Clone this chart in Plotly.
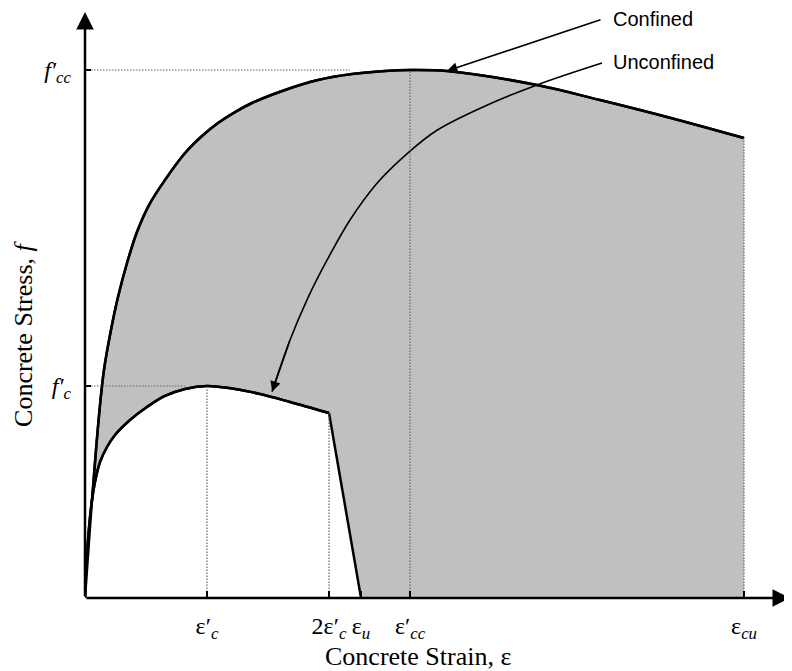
import plotly.graph_objects as go

# ---- data (strain, stress) ----
conf_strain = [0, 0.0000492, 0.000115, 0.00018, 0.000246, 0.000311, 0.00041, 0.000541,
               0.000689, 0.000852, 0.001049, 0.001311, 0.00164, 0.001918, 0.00218, 0.002459,
               0.002738, 0.003279, 0.00382, 0.004377, 0.004918, 0.005328, 0.005934,
               0.00741, 0.008443, 0.009541, 0.010803]
conf_stress = [0, 6.08, 13.87, 20.94, 27.31, 32.26, 37.22, 42.59,
               47.41, 51.79, 55.61, 59.15, 62.97, 65.38, 67.22, 68.77,
               70.05, 71.89, 73.30, 74.15, 74.58, 74.72, 74.58,
               72.59, 70.47, 68.07, 65.09]

unconf_strain = [0, 0.0000164, 0.0000492, 0.0000984, 0.000164, 0.000246, 0.000361, 0.000492,
                 0.000738, 0.001016, 0.001311, 0.00164, 0.002, 0.002459, 0.002869, 0.003361, 0.004]
unconf_stress = [0, 3.68, 8.21, 12.74, 16.42, 19.25, 21.37, 23.07,
                 25.19, 27.03, 28.59, 29.58, 30.0, 29.58, 28.87, 27.74, 26.18]
unconf_tail_strain = [0.004, 0.004525]
unconf_tail_stress = [26.18, 0]

# curved leader for "Unconfined"
lead_strain = [0.008475, 0.00741, 0.006525, 0.00577, 0.005295, 0.004787, 0.004344,
               0.003967, 0.003639, 0.003361, 0.003066]
lead_stress = [75.7, 72.6, 69.5, 66.2, 63.0, 58.7, 53.5, 47.8, 42.2, 36.5, 29.2]

# key points
eps_c, eps_2c, eps_u, eps_cc, eps_cu = 0.002, 0.004, 0.004525, 0.005328, 0.010803
fc, fcc = 30.0, 74.72
x_tickvals = [eps_c, eps_2c, eps_u, eps_cc, eps_cu]
x_ticktext = ["ε′<sub><i>c</i></sub>", "2ε′<sub><i>c</i></sub>", "ε<sub><i>u</i></sub>",
              "ε′<sub><i>cc</i></sub>", "ε<sub><i>cu</i></sub>"]
y_tickvals = [fc, fcc]
y_ticktext = ["<i>f′<sub>c</sub></i>", "<i>f′<sub>cc</sub></i>"]

XMAX, YMAX = 0.011557, 82.93
GRAY = "#c0c0c0"
SERIF = "Liberation Serif, Times New Roman, serif"
SANS = "Liberation Sans, Arial, sans-serif"
CURVE = dict(color="black", width=2.5, shape="spline", smoothing=1.0)

fig = go.Figure()
# gray area under confined curve
fig.add_trace(go.Scatter(x=conf_strain, y=conf_stress, mode="lines", line=CURVE,
                         fill="tozeroy", fillcolor=GRAY, hoverinfo="skip"))
# white area under unconfined curve
fig.add_trace(go.Scatter(x=unconf_strain, y=unconf_stress, mode="lines", line=CURVE,
                         fill="tozeroy", fillcolor="white", hoverinfo="skip"))
fig.add_trace(go.Scatter(x=unconf_tail_strain, y=unconf_tail_stress, mode="lines", line=dict(color="black", width=2.5),
                         fill="tozeroy", fillcolor="white", hoverinfo="skip"))
# redraw curve lines on top of fills
fig.add_trace(go.Scatter(x=conf_strain, y=conf_stress, mode="lines", line=CURVE, hoverinfo="skip"))
fig.add_trace(go.Scatter(x=unconf_strain, y=unconf_stress, mode="lines", line=CURVE, hoverinfo="skip"))
# unconfined leader line
fig.add_trace(go.Scatter(x=lead_strain, y=lead_stress, mode="lines",
                         line=dict(color="black", width=1.6, shape="spline", smoothing=1.0), hoverinfo="skip"))

shapes = []
dot = dict(color="#666666", width=1.2, dash="1.5px,1.5px")
shapes.append(dict(type="line", xref="x", yref="y", x0=0, x1=0.004344, y0=fcc, y1=fcc, line=dot, layer="above"))
shapes.append(dict(type="line", xref="x", yref="y", x0=0, x1=0.00164, y0=fc, y1=fc, line=dot, layer="above"))
shapes.append(dict(type="line", xref="x", yref="y", x0=eps_c, x1=eps_c, y0=0, y1=fc, line=dot, layer="above"))
shapes.append(dict(type="line", xref="x", yref="y", x0=eps_2c, x1=eps_2c, y0=0, y1=26.18, line=dot, layer="above"))
shapes.append(dict(type="line", xref="x", yref="y", x0=eps_cc, x1=eps_cc, y0=0, y1=fcc, line=dot, layer="above"))
shapes.append(dict(type="line", xref="x", yref="y", x0=eps_cu, x1=eps_cu, y0=0, y1=65.09, line=dot, layer="above"))
# tick marks
for xv in x_tickvals:
    shapes.append(dict(type="line", xref="x", yref="y", x0=xv, x1=xv, ysizemode="pixel", yanchor=0, y0=-7, y1=7,
                       line=dict(color="black", width=2), layer="above"))
for yv in y_tickvals:
    shapes.append(dict(type="line", xref="x", yref="y", y0=yv, y1=yv, xsizemode="pixel", xanchor=0, x0=-6, x1=6,
                       line=dict(color="black", width=2), layer="above"))

annotations = [
    # axes with arrowheads
    dict(x=XMAX, y=0, ax=0, ay=0, xref="x", yref="y", axref="x", ayref="y", text="", showarrow=True,
         arrowhead=2, arrowsize=1.4, arrowwidth=2.5, arrowcolor="black", standoff=0),
    dict(x=0, y=YMAX, ax=0, ay=0, xref="x", yref="y", axref="x", ayref="y", text="", showarrow=True,
         arrowhead=2, arrowsize=1.4, arrowwidth=2.5, arrowcolor="black", standoff=0),
    # confined leader
    dict(x=0.005934, y=74.6, ax=0.008475, ay=81.9, xref="x", yref="y", axref="x", ayref="y", text="", showarrow=True,
         arrowhead=2, arrowsize=1.3, arrowwidth=1.6, arrowcolor="black", standoff=0),
    # unconfined leader head
    dict(x=lead_strain[-1], y=lead_stress[-1], ax=lead_strain[-2], ay=lead_stress[-2], xref="x", yref="y",
         axref="x", ayref="y", text="", showarrow=True, arrowhead=2, arrowsize=1.3, arrowwidth=1.6,
         arrowcolor="black", standoff=0),
    dict(x=0.00862, y=81.9, xref="x", yref="y", text="Confined", showarrow=False, xanchor="left", yanchor="middle",
         font=dict(family=SANS, size=20, color="black")),
    dict(x=0.00862, y=75.8, xref="x", yref="y", text="Unconfined", showarrow=False, xanchor="left", yanchor="middle",
         font=dict(family=SANS, size=20, color="black")),
    # axis titles
    dict(x=0.473, y=-0.099, xref="paper", yref="paper", text="Concrete Strain, ε", showarrow=False,
         xanchor="center", yanchor="middle", font=dict(family=SERIF, size=26, color="black")),
    dict(x=-0.087, y=0.45, xref="paper", yref="paper", text="Concrete Stress, <i>f</i>", showarrow=False,
         textangle=-90, xanchor="center", yanchor="middle", font=dict(family=SERIF, size=26, color="black")),
]

# page body has an 8px default margin, so the figure is 8px smaller and offset
fig.update_layout(
    width=784, height=663,
    margin=dict(l=77, r=2, t=4, b=73),
    paper_bgcolor="white", plot_bgcolor="white",
    showlegend=False,
    shapes=shapes, annotations=annotations,
    xaxis=dict(range=[0, XMAX], showgrid=False, zeroline=False, showline=False, ticks="",
               tickvals=x_tickvals, ticktext=x_ticktext, ticklabelstandoff=11, automargin=False,
               tickfont=dict(family=SERIF, size=24, color="black"), fixedrange=True),
    yaxis=dict(range=[0, YMAX], showgrid=False, zeroline=False, showline=False, ticks="",
               tickvals=y_tickvals, ticktext=y_ticktext, ticklabelstandoff=13, automargin=False,
               tickfont=dict(family=SERIF, size=24, color="black"), fixedrange=True),
)

fig.write_html("out.html")
